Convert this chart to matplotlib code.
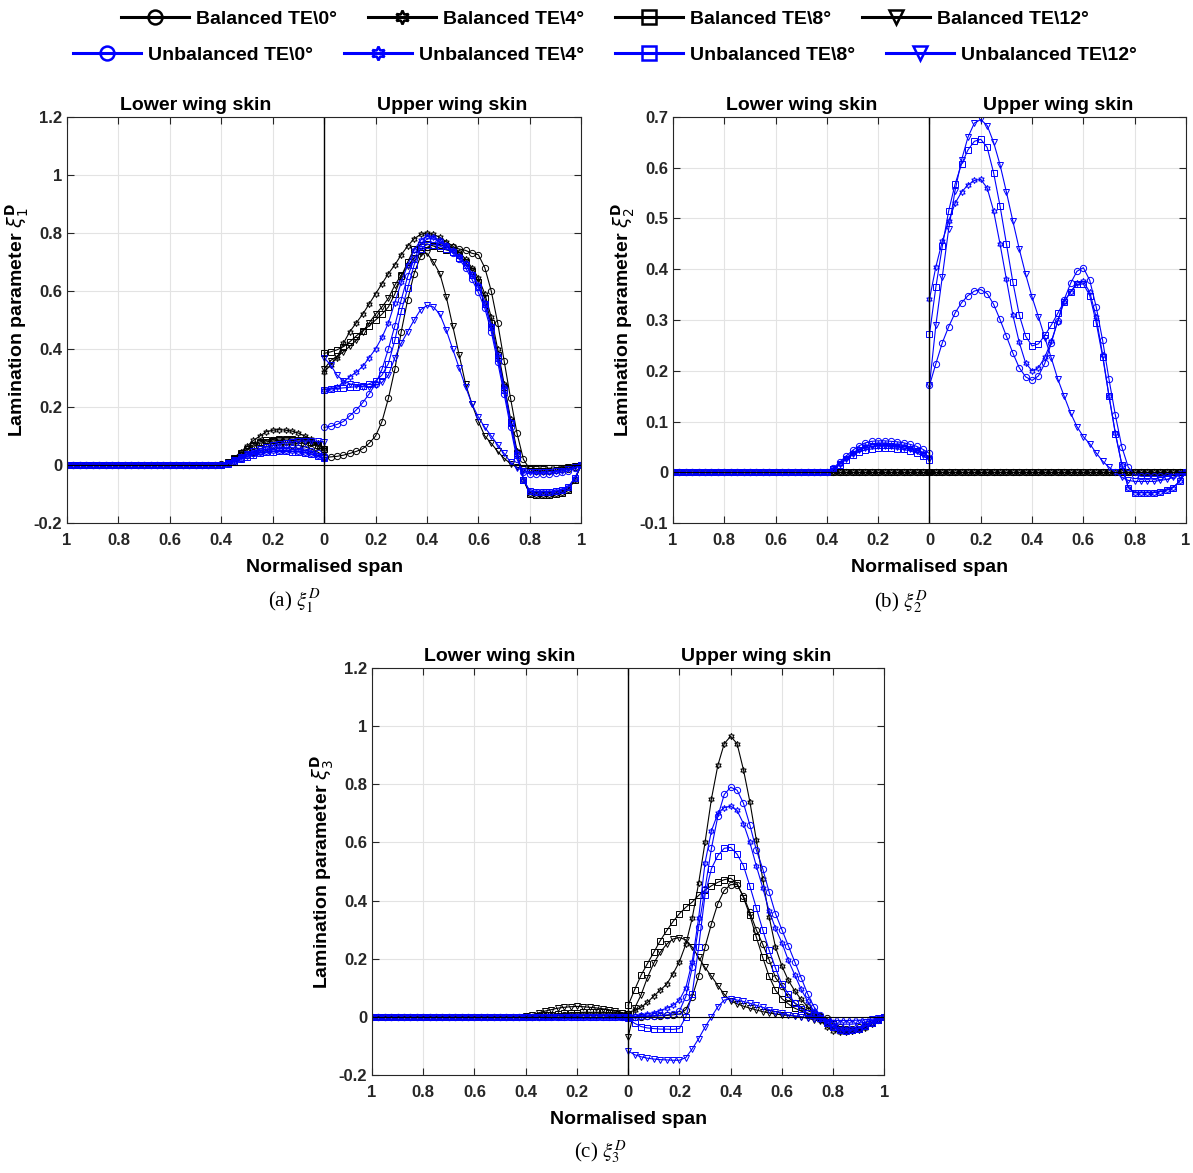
import numpy as np
import matplotlib
matplotlib.use('Agg')
import matplotlib.pyplot as plt
from matplotlib.lines import Line2D
from matplotlib.ticker import FuncFormatter

plt.rcParams['font.family'] = ['Liberation Sans Narrow', 'Liberation Sans', 'DejaVu Sans']

# normalised span stations (same on both skins)
span = np.arange(41) * 0.025

labels_bal = ['Balanced TE\\0°', 'Balanced TE\\4°', 'Balanced TE\\8°', 'Balanced TE\\12°']
labels_unb = ['Unbalanced TE\\0°', 'Unbalanced TE\\4°', 'Unbalanced TE\\8°', 'Unbalanced TE\\12°']

# ---------------- (a) xi_1 ----------------
# upper skin, 41 stations 0..1
a_up_b0 = [0.026, 0.028, 0.030, 0.034, 0.040, 0.047, 0.056, 0.075, 0.10, 0.15,
           0.23, 0.33, 0.46, 0.57, 0.66, 0.72, 0.75, 0.76, 0.76, 0.755,
           0.75, 0.745, 0.74, 0.73, 0.725, 0.68, 0.60, 0.49, 0.36, 0.23,
           0.11, 0.02, -0.015, -0.02, -0.02, -0.02, -0.018, -0.015, -0.012, -0.006,
           0.0]
a_up_b4 = [0.32, 0.345, 0.37, 0.42, 0.46, 0.49, 0.52, 0.555, 0.59, 0.625,
           0.66, 0.69, 0.725, 0.755, 0.78, 0.795, 0.80, 0.795, 0.785, 0.77,
           0.755, 0.735, 0.71, 0.68, 0.645, 0.59, 0.51, 0.40, 0.28, 0.16,
           0.05, -0.05, -0.10, -0.105, -0.105, -0.105, -0.10, -0.095, -0.085, -0.05,
           0.0]
a_up_b8 = [0.385, 0.39, 0.397, 0.408, 0.425, 0.445, 0.463, 0.48, 0.50, 0.52,
           0.545, 0.59, 0.65, 0.70, 0.745, 0.76, 0.762, 0.755, 0.748, 0.742,
           0.735, 0.725, 0.70, 0.67, 0.63, 0.575, 0.49, 0.38, 0.27, 0.15,
           0.04, -0.05, -0.10, -0.105, -0.105, -0.105, -0.10, -0.095, -0.085, -0.05,
           0.0]
a_up_b12 = [0.33, 0.36, 0.375, 0.39, 0.41, 0.43, 0.46, 0.49, 0.52, 0.545,
            0.575, 0.62, 0.655, 0.685, 0.715, 0.73, 0.73, 0.70, 0.66, 0.58,
            0.48, 0.38, 0.28, 0.21, 0.15, 0.10, 0.075, 0.047, 0.023, 0.005,
            -0.008, -0.012, -0.012, -0.012, -0.012, -0.011, -0.01, -0.009, -0.007, -0.004,
            0.0]
a_up_u0 = [0.13, 0.133, 0.14, 0.15, 0.17, 0.19, 0.215, 0.245, 0.28, 0.33,
           0.40, 0.48, 0.57, 0.65, 0.71, 0.755, 0.78, 0.78, 0.77, 0.755,
           0.73, 0.71, 0.68, 0.64, 0.595, 0.54, 0.46, 0.355, 0.245, 0.13,
           0.02, -0.025, -0.03, -0.03, -0.03, -0.03, -0.028, -0.025, -0.02, -0.01,
           0.0]
a_up_u4 = [0.26, 0.262, 0.268, 0.285, 0.305, 0.32, 0.34, 0.37, 0.40, 0.44,
           0.49, 0.56, 0.63, 0.69, 0.74, 0.775, 0.79, 0.785, 0.775, 0.76,
           0.74, 0.72, 0.695, 0.66, 0.62, 0.56, 0.48, 0.38, 0.27, 0.15,
           0.04, -0.05, -0.09, -0.092, -0.092, -0.092, -0.09, -0.085, -0.075, -0.045,
           0.0]
a_up_u8 = [0.26, 0.262, 0.264, 0.266, 0.268, 0.27, 0.272, 0.28, 0.29, 0.31,
           0.35, 0.43, 0.53, 0.61, 0.69, 0.745, 0.76, 0.76, 0.755, 0.745,
           0.735, 0.715, 0.69, 0.655, 0.615, 0.555, 0.475, 0.37, 0.26, 0.145,
           0.035, -0.05, -0.09, -0.092, -0.092, -0.092, -0.09, -0.085, -0.075, -0.045,
           0.0]
a_up_u12 = [0.37, 0.345, 0.31, 0.29, 0.28, 0.275, 0.27, 0.27, 0.275, 0.285,
            0.31, 0.37, 0.42, 0.46, 0.50, 0.535, 0.55, 0.545, 0.52, 0.465,
            0.40, 0.335, 0.27, 0.21, 0.165, 0.13, 0.10, 0.07, 0.04, 0.01,
            -0.01, -0.02, -0.025, -0.025, -0.025, -0.024, -0.022, -0.02, -0.015, -0.008,
            0.0]
# lower skin, stations 0..0.4 (zero further out)
a_lo_b0 = [0.03, 0.045, 0.055, 0.063, 0.068, 0.07, 0.07, 0.07, 0.068, 0.063, 0.055, 0.045, 0.035, 0.025, 0.015, 0.007, 0.002]
a_lo_b4 = [0.06, 0.075, 0.09, 0.10, 0.11, 0.117, 0.12, 0.122, 0.12, 0.115, 0.10, 0.085, 0.065, 0.045, 0.025, 0.01, 0.0]
a_lo_b8 = [0.055, 0.07, 0.08, 0.085, 0.088, 0.09, 0.09, 0.09, 0.088, 0.085, 0.08, 0.07, 0.055, 0.04, 0.025, 0.01, 0.0]
a_lo_b12 = [0.05, 0.065, 0.075, 0.08, 0.083, 0.085, 0.085, 0.085, 0.083, 0.08, 0.075, 0.065, 0.05, 0.035, 0.02, 0.008, 0.0]
a_lo_u0 = [0.03, 0.04, 0.05, 0.055, 0.058, 0.06, 0.06, 0.06, 0.058, 0.055, 0.05, 0.043, 0.035, 0.025, 0.015, 0.007, 0.0]
a_lo_u4 = [0.02, 0.03, 0.038, 0.043, 0.046, 0.048, 0.05, 0.05, 0.048, 0.046, 0.043, 0.038, 0.03, 0.022, 0.013, 0.005, 0.0]
a_lo_u8 = [0.025, 0.032, 0.038, 0.042, 0.045, 0.046, 0.047, 0.047, 0.046, 0.044, 0.041, 0.036, 0.029, 0.021, 0.012, 0.005, 0.0]
a_lo_u12 = [0.08, 0.082, 0.083, 0.083, 0.082, 0.08, 0.077, 0.073, 0.068, 0.062, 0.055, 0.047, 0.038, 0.028, 0.017, 0.008, 0.0]

# ---------------- (b) xi_2 ----------------
b_balanced = [0.0] * 41
b_up_u0 = [0.171, 0.214, 0.255, 0.287, 0.314, 0.334, 0.348, 0.357, 0.36, 0.352,
           0.331, 0.301, 0.268, 0.235, 0.206, 0.188, 0.181, 0.19, 0.215, 0.255,
           0.298, 0.34, 0.372, 0.396, 0.403, 0.378, 0.326, 0.26, 0.183, 0.112,
           0.05, 0.01, -0.005, -0.008, -0.008, -0.008, -0.008, -0.007, -0.005, -0.003,
           0.0]
b_up_u4 = [0.341, 0.405, 0.455, 0.495, 0.53, 0.552, 0.566, 0.575, 0.577, 0.56,
           0.515, 0.45, 0.38, 0.31, 0.256, 0.215, 0.20, 0.206, 0.227, 0.258,
           0.297, 0.336, 0.355, 0.373, 0.376, 0.355, 0.305, 0.232, 0.15, 0.077,
           0.015, -0.03, -0.04, -0.04, -0.04, -0.04, -0.038, -0.035, -0.03, -0.018,
           0.0]
b_up_u8 = [0.272, 0.365, 0.445, 0.515, 0.568, 0.607, 0.635, 0.652, 0.656, 0.64,
           0.59, 0.525, 0.45, 0.375, 0.31, 0.268, 0.249, 0.253, 0.27, 0.29,
           0.313, 0.336, 0.355, 0.37, 0.371, 0.348, 0.295, 0.228, 0.15, 0.075,
           0.015, -0.03, -0.04, -0.04, -0.04, -0.04, -0.038, -0.035, -0.03, -0.018,
           0.0]
b_up_u12 = [0.171, 0.29, 0.385, 0.48, 0.555, 0.615, 0.66, 0.688, 0.695, 0.683,
            0.65, 0.606, 0.552, 0.495, 0.44, 0.39, 0.345, 0.306, 0.265, 0.225,
            0.184, 0.15, 0.117, 0.09, 0.07, 0.056, 0.038, 0.022, 0.01, 0.0,
            -0.01, -0.016, -0.018, -0.018, -0.018, -0.018, -0.016, -0.014, -0.01, -0.005,
            0.0]
b_lo_u0 = [0.037, 0.045, 0.051, 0.055, 0.058, 0.06, 0.061, 0.062, 0.062, 0.061, 0.058, 0.052, 0.043, 0.032, 0.02, 0.008, 0.0]
b_lo_u4 = [0.03, 0.038, 0.044, 0.048, 0.051, 0.053, 0.054, 0.055, 0.055, 0.054, 0.051, 0.046, 0.038, 0.028, 0.017, 0.007, 0.0]
b_lo_u8 = [0.025, 0.032, 0.038, 0.042, 0.045, 0.046, 0.047, 0.047, 0.047, 0.046, 0.044, 0.04, 0.034, 0.025, 0.015, 0.006, 0.0]
b_lo_u12 = [0.027, 0.035, 0.041, 0.045, 0.048, 0.05, 0.051, 0.052, 0.052, 0.051, 0.048, 0.043, 0.036, 0.027, 0.016, 0.006, 0.0]

# ---------------- (c) xi_3 ----------------
c_up_b0 = [0.0, 0.0, 0.0, 0.002, 0.003, 0.004, 0.005, 0.007, 0.01, 0.025,
           0.07, 0.14, 0.24, 0.32, 0.39, 0.435, 0.455, 0.455, 0.415, 0.36,
           0.30, 0.25, 0.197, 0.135, 0.105, 0.068, 0.048, 0.033, 0.022, 0.012,
           0.004, -0.005, -0.02, -0.035, -0.04, -0.04, -0.035, -0.028, -0.02, -0.01,
           0.0]
c_up_b4 = [0.015, 0.023, 0.033, 0.05, 0.072, 0.092, 0.112, 0.148, 0.19, 0.25,
           0.34, 0.46, 0.60, 0.75, 0.865, 0.94, 0.965, 0.94, 0.85, 0.74,
           0.61, 0.475, 0.345, 0.24, 0.175, 0.126, 0.09, 0.06, 0.036, 0.014,
           -0.012, -0.035, -0.048, -0.052, -0.052, -0.05, -0.045, -0.037, -0.025, -0.012,
           0.0]
c_up_b8 = [0.04, 0.093, 0.143, 0.183, 0.222, 0.262, 0.296, 0.328, 0.355, 0.377,
           0.395, 0.418, 0.436, 0.451, 0.463, 0.472, 0.477, 0.46, 0.41, 0.35,
           0.275, 0.205, 0.14, 0.092, 0.063, 0.045, 0.03, 0.02, 0.012, 0.005,
           0.0, -0.01, -0.025, -0.04, -0.045, -0.045, -0.04, -0.032, -0.022, -0.01,
           0.0]
c_up_b12 = [-0.07, 0.03, 0.075, 0.135, 0.185, 0.222, 0.25, 0.268, 0.273, 0.265,
            0.24, 0.205, 0.17, 0.14, 0.108, 0.078, 0.055, 0.045, 0.037, 0.03,
            0.024, 0.018, 0.014, 0.01, 0.007, 0.005, 0.003, 0.0, -0.005, -0.01,
            -0.015, -0.025, -0.035, -0.045, -0.05, -0.048, -0.042, -0.033, -0.022, -0.01,
            0.0]
c_up_u0 = [0.0, 0.001, 0.002, 0.003, 0.004, 0.005, 0.007, 0.01, 0.02, 0.07,
           0.17, 0.31, 0.44, 0.58, 0.69, 0.765, 0.79, 0.78, 0.735, 0.66,
           0.575, 0.51, 0.43, 0.355, 0.30, 0.245, 0.19, 0.135, 0.08, 0.035,
           0.005, -0.01, -0.02, -0.025, -0.025, -0.025, -0.022, -0.018, -0.012, -0.006,
           0.0]
c_up_u4 = [0.0, 0.002, 0.005, 0.01, 0.015, 0.022, 0.03, 0.04, 0.058, 0.10,
           0.19, 0.34, 0.53, 0.64, 0.70, 0.72, 0.725, 0.71, 0.665, 0.60,
           0.52, 0.445, 0.365, 0.305, 0.255, 0.195, 0.145, 0.095, 0.055, 0.02,
           0.0, -0.02, -0.035, -0.045, -0.048, -0.045, -0.04, -0.032, -0.022, -0.01,
           0.0]
c_up_u8 = [-0.005, -0.022, -0.033, -0.038, -0.04, -0.042, -0.042, -0.043, -0.04, 0.0,
           0.08, 0.24, 0.42, 0.51, 0.555, 0.58, 0.583, 0.56, 0.52, 0.45,
           0.375, 0.30, 0.23, 0.168, 0.112, 0.08, 0.048, 0.027, 0.014, 0.005,
           -0.005, -0.02, -0.035, -0.045, -0.048, -0.045, -0.04, -0.032, -0.022, -0.01,
           0.0]
c_up_u12 = [-0.117, -0.13, -0.137, -0.142, -0.145, -0.147, -0.148, -0.149, -0.149, -0.14,
            -0.11, -0.075, -0.035, 0.0, 0.035, 0.058, 0.062, 0.058, 0.053, 0.047,
            0.04, 0.033, 0.025, 0.018, 0.012, 0.007, 0.003, 0.0, -0.003, -0.006,
            -0.008, -0.01, -0.012, -0.012, -0.012, -0.012, -0.011, -0.01, -0.008, -0.004,
            0.0]
c_lo_b0 = [0.003, 0.004, 0.005, 0.005, 0.006, 0.006, 0.006, 0.006, 0.006, 0.005, 0.005, 0.004, 0.003, 0.002, 0.001, 0.0, 0.0]
c_lo_b4 = [0.004, 0.005, 0.006, 0.007, 0.008, 0.008, 0.008, 0.008, 0.008, 0.007, 0.006, 0.005, 0.004, 0.003, 0.001, 0.0, 0.0]
c_lo_b8 = [0.01, 0.012, 0.014, 0.015, 0.016, 0.016, 0.016, 0.016, 0.015, 0.014, 0.012, 0.01, 0.008, 0.005, 0.003, 0.001, 0.0]
c_lo_b12 = [0.01, 0.015, 0.02, 0.025, 0.028, 0.031, 0.033, 0.035, 0.036, 0.035, 0.033, 0.03, 0.025, 0.02, 0.014, 0.008, 0.003]
c_lo_unb = [0.0] * 17

markers = ['o', (6, 1, 0), 's', 'v']


def lower(vals):
    # lower skin: beyond 0.4 the parameter stays at zero
    return np.r_[vals, np.zeros(41 - len(vals))]


def panel(ax, up_bal, lo_bal, up_unb, lo_unb, ylim, yticks, ylab):
    for up, lo, m in zip(up_bal, lo_bal, markers):
        ax.plot(span, up, color='k', marker=m, ms=4.5, mfc='none', mew=0.7, lw=0.8)
        ax.plot(-span, lower(lo), color='k', marker=m, ms=4.5, mfc='none', mew=0.7, lw=0.8)
    for up, lo, m in zip(up_unb, lo_unb, markers):
        ax.plot(span, up, color='b', marker=m, ms=4.5, mfc='none', mew=0.7, lw=0.8)
        ax.plot(-span, lower(lo), color='b', marker=m, ms=4.5, mfc='none', mew=0.7, lw=0.8)
    ax.axvline(0, color='k', lw=1)
    ax.axhline(0, color='k', lw=0.8)
    ax.set_xlim(-1, 1)
    ax.set_ylim(*ylim)
    ax.set_xticks(np.round(np.arange(-1, 1.01, 0.2), 1))
    ax.set_yticks(yticks)
    ax.xaxis.set_major_formatter(FuncFormatter(lambda v, p: '%g' % round(abs(v), 1)))
    ax.yaxis.set_major_formatter(FuncFormatter(lambda v, p: '%g' % round(v, 1)))
    ax.grid(color='#e3e3e3', lw=0.8)
    ax.set_axisbelow(True)
    ax.tick_params(direction='in', top=True, right=True, length=5, width=0.8,
                   labelsize=12, colors='#262626')
    ax.tick_params(axis='x', pad=7)
    for t in ax.get_xticklabels() + ax.get_yticklabels():
        t.set_fontweight('bold')
    for s in ax.spines.values():
        s.set_color('#262626')
        s.set_linewidth(0.8)
    ax.set_xlabel('Normalised span', fontsize=14, fontweight='bold', labelpad=8)
    ax.set_ylabel(ylab, fontsize=14, fontweight='bold', labelpad=2)
    tr = ax.get_xaxis_transform()
    ax.text(-0.5, 1.008, 'Lower wing skin', transform=tr, ha='center', va='bottom',
            fontsize=14, fontweight='bold')
    ax.text(0.5, 1.008, 'Upper wing skin', transform=tr, ha='center', va='bottom',
            fontsize=14, fontweight='bold')


fig = plt.figure(figsize=(11.93, 11.73), dpi=100)

ax1 = fig.add_axes([0.0562, 0.5541, 0.431, 0.3462])
panel(ax1, [a_up_b0, a_up_b4, a_up_b8, a_up_b12], [a_lo_b0, a_lo_b4, a_lo_b8, a_lo_b12],
      [a_up_u0, a_up_u4, a_up_u8, a_up_u12], [a_lo_u0, a_lo_u4, a_lo_u8, a_lo_u12],
      (-0.2, 1.2), np.round(np.arange(-0.2, 1.21, 0.2), 1),
      r'Lamination parameter $\xi_1^\mathbf{D}$')

ax2 = fig.add_axes([0.5641, 0.5541, 0.430, 0.3462])
panel(ax2, [b_balanced] * 4, [b_balanced[:17]] * 4,
      [b_up_u0, b_up_u4, b_up_u8, b_up_u12], [b_lo_u0, b_lo_u4, b_lo_u8, b_lo_u12],
      (-0.1, 0.7), np.round(np.arange(-0.1, 0.71, 0.1), 1),
      r'Lamination parameter $\xi_2^\mathbf{D}$')

ax3 = fig.add_axes([0.3118, 0.0835, 0.4295, 0.347])
panel(ax3, [c_up_b0, c_up_b4, c_up_b8, c_up_b12], [c_lo_b0, c_lo_b4, c_lo_b8, c_lo_b12],
      [c_up_u0, c_up_u4, c_up_u8, c_up_u12], [c_lo_unb] * 4,
      (-0.2, 1.2), np.round(np.arange(-0.2, 1.21, 0.2), 1),
      r'Lamination parameter $\xi_3^\mathbf{D}$')

# sub-figure captions
cap = dict(ha='center', va='center', fontsize=15, fontweight='normal',
           family=['Liberation Serif', 'DejaVu Serif'], math_fontfamily='stix')
fig.text(294 / 1193, 1 - 602 / 1173, r'(a) $\xi_1^D$', **cap)
fig.text(901 / 1193, 1 - 602 / 1173, r'(b) $\xi_2^D$', **cap)
fig.text(600 / 1193, 1 - 1152 / 1173, r'(c) $\xi_3^D$', **cap)

# legend, one row per family
def handles(color):
    return [Line2D([], [], color=color, marker=m, ms=10, mfc='none', mew=1.8, lw=2.2)
            for m in markers]

leg_kw = dict(loc='center', ncol=4, frameon=False, prop={'size': 14, 'weight': 'bold'},
              handlelength=3.5, handletextpad=0.35, columnspacing=1.6)
fig.legend(handles('k'), labels_bal, bbox_to_anchor=(0.507, 1 - 19 / 1173), **leg_kw)
fig.legend(handles('b'), labels_unb, bbox_to_anchor=(0.507, 1 - 55 / 1173), **leg_kw)

fig.savefig('out.png', dpi=100)
